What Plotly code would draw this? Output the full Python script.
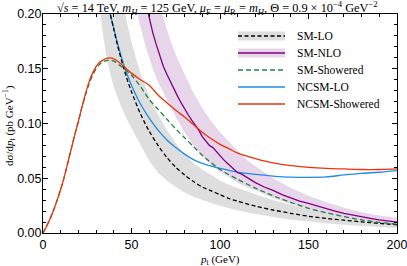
import plotly.graph_objects as go

# ---------------- data ----------------
# SM-LO central curve
sm_lo_x = [34, 36, 38, 40, 42, 45, 48, 50, 55, 60, 65, 70, 75, 80, 85, 90, 95, 100, 105, 110,
           120, 130, 140, 150, 160, 170, 180, 190, 200]
sm_lo_y = [0.240, 0.219, 0.200, 0.186, 0.172, 0.154, 0.138, 0.129, 0.109, 0.093, 0.080, 0.069,
           0.060, 0.053, 0.047, 0.042, 0.0385, 0.035, 0.0315, 0.029, 0.0245, 0.021, 0.018,
           0.0153, 0.0133, 0.0117, 0.0102, 0.0088, 0.0075]
# SM-LO scale band
sm_lo_band_x = [28, 30, 32, 34, 36, 38, 40, 44, 47, 50, 55, 60, 65, 70, 75, 80, 85, 90, 95, 100,
                105, 110, 117, 120, 130, 140, 150, 160, 170, 180, 190, 200]
sm_lo_band_lo = [0.29, 0.25, 0.205, 0.18, 0.160, 0.146, 0.133, 0.116, 0.105, 0.096, 0.081, 0.066,
                 0.055, 0.048, 0.042, 0.037, 0.033, 0.030, 0.0275, 0.025, 0.0228, 0.0205, 0.0182,
                 0.0172, 0.0145, 0.0122, 0.0103, 0.0088, 0.0075, 0.0064, 0.0054, 0.0045]
sm_lo_band_hi = [0.40, 0.37, 0.34, 0.31, 0.29, 0.27, 0.25, 0.218, 0.196, 0.174, 0.146, 0.125,
                 0.108, 0.094, 0.082, 0.072, 0.064, 0.058, 0.053, 0.048, 0.044, 0.041, 0.037,
                 0.0355, 0.030, 0.026, 0.022, 0.019, 0.0165, 0.0143, 0.0122, 0.0104]

# SM-NLO central curve
sm_nlo_x = [56, 58, 60, 62, 64, 66, 68, 70, 72, 74, 76, 78, 80, 82, 84, 86, 88, 90, 92, 94, 96,
            98, 100, 102, 104, 106, 108, 110, 112, 114, 116, 118, 120, 125, 130, 135, 140, 145,
            150, 155, 160, 165, 170, 175, 180, 185, 190, 195, 200]
sm_nlo_y = [0.225, 0.210, 0.197, 0.183, 0.172, 0.161, 0.152, 0.145, 0.138, 0.131, 0.125, 0.119,
            0.113, 0.108, 0.103, 0.099, 0.094, 0.088, 0.084, 0.080, 0.078, 0.074, 0.070, 0.067,
            0.064, 0.061, 0.058, 0.055, 0.054, 0.052, 0.050, 0.048, 0.046, 0.042, 0.039, 0.035,
            0.032, 0.0292, 0.027, 0.0245, 0.0222, 0.020, 0.018, 0.0163, 0.0148, 0.0133, 0.012,
            0.011, 0.0099]
# SM-NLO scale band
sm_nlo_band_x = [50, 52, 54, 56, 58, 60, 62, 65, 68, 70, 72, 75, 80, 85, 90, 95, 100, 105, 110,
                 115, 120, 130, 140, 150, 160, 170, 180, 190, 200]
sm_nlo_band_lo = [0.235, 0.212, 0.195, 0.182, 0.170, 0.160, 0.150, 0.138, 0.128, 0.122, 0.116,
                  0.106, 0.092, 0.080, 0.070, 0.062, 0.056, 0.051, 0.046, 0.042, 0.039, 0.032,
                  0.0265, 0.022, 0.0175, 0.014, 0.011, 0.009, 0.0074]
sm_nlo_band_hi = [0.31, 0.30, 0.285, 0.272, 0.26, 0.24, 0.229, 0.213, 0.196, 0.186, 0.176, 0.163,
                  0.145, 0.128, 0.114, 0.102, 0.092, 0.083, 0.075, 0.067, 0.061, 0.050, 0.041,
                  0.034, 0.028, 0.023, 0.019, 0.016, 0.0138]

# SM-Showered
sm_sh_x = [0, 2, 4, 6, 8, 10, 12, 14, 16, 18, 20, 22, 24, 26, 28, 30, 32, 34, 36, 38, 40, 45, 50,
           55, 60, 65, 70, 75, 80, 85, 90, 100, 110, 120, 130, 140, 150, 160, 170, 180, 190, 200]
sm_sh_y = [0.0, 0.006, 0.013, 0.021, 0.030, 0.040, 0.051, 0.064, 0.077, 0.090, 0.102, 0.115,
           0.126, 0.136, 0.144, 0.150, 0.154, 0.1565, 0.1575, 0.1575, 0.157, 0.151, 0.144, 0.134,
           0.122, 0.113, 0.104, 0.095, 0.087, 0.079, 0.071, 0.058, 0.049, 0.041, 0.034, 0.028,
           0.0225, 0.0185, 0.015, 0.012, 0.0098, 0.008]

# NCSM-LO
nc_lo_x = [34, 36, 38, 40, 42, 45, 48, 50, 55, 60, 65, 70, 75, 80, 85, 90, 95, 100, 110, 120,
           130, 140, 150, 160, 170, 180, 190, 200]
nc_lo_y = [0.240, 0.219, 0.200, 0.187, 0.174, 0.157, 0.143, 0.135, 0.118, 0.105, 0.094, 0.085,
           0.078, 0.072, 0.067, 0.0635, 0.061, 0.059, 0.0555, 0.0535, 0.052, 0.051, 0.0508,
           0.0512, 0.053, 0.0545, 0.0555, 0.057]

# NCSM-Showered
nc_sh_x = [0, 2, 4, 6, 8, 10, 12, 14, 16, 18, 20, 22, 24, 26, 28, 30, 32, 34, 36, 38, 40, 42, 45,
           50, 55, 60, 65, 70, 75, 80, 85, 90, 95, 100, 105, 110, 120, 130, 140, 150, 160, 170,
           180, 190, 200]
nc_sh_y = [0.0, 0.006, 0.013, 0.021, 0.030, 0.040, 0.051, 0.064, 0.077, 0.090, 0.102, 0.115,
           0.127, 0.138, 0.146, 0.152, 0.156, 0.158, 0.1595, 0.160, 0.159, 0.157, 0.153, 0.146,
           0.140, 0.135, 0.126, 0.119, 0.112, 0.106, 0.099, 0.092, 0.086, 0.081, 0.077, 0.073,
           0.068, 0.064, 0.0615, 0.060, 0.059, 0.0585, 0.058, 0.058, 0.0585]

legend_labels = ["SM-LO", "SM-NLO", "SM-Showered", "NCSM-LO", "NCSM-Showered"]
x_ticks = [0, 50, 100, 150, 200]
y_ticks = [0.00, 0.05, 0.10, 0.15, 0.20]

# ---------------- style ----------------
GRAY_BAND = "rgb(222,222,222)"
PINK_BAND = "rgb(231,213,233)"
BLACK = "black"
PURPLE = "rgb(128,0,128)"
GREEN = "rgb(30,130,60)"
BLUE = "rgb(30,140,230)"
RED = "rgb(235,50,10)"
SERIF = "Liberation Serif, DejaVu Serif, serif"
SANS = "Liberation Sans, Arial, sans-serif"

fig = go.Figure()

# bands
fig.add_trace(go.Scatter(x=sm_lo_band_x, y=sm_lo_band_lo, mode="lines", line=dict(width=0),
                         showlegend=False, hoverinfo="skip"))
fig.add_trace(go.Scatter(x=sm_lo_band_x, y=sm_lo_band_hi, mode="lines", line=dict(width=0),
                         fill="tonexty", fillcolor=GRAY_BAND, showlegend=False, hoverinfo="skip"))
fig.add_trace(go.Scatter(x=sm_nlo_band_x, y=sm_nlo_band_lo, mode="lines", line=dict(width=0),
                         showlegend=False, hoverinfo="skip"))
fig.add_trace(go.Scatter(x=sm_nlo_band_x, y=sm_nlo_band_hi, mode="lines", line=dict(width=0),
                         fill="tonexty", fillcolor=PINK_BAND, showlegend=False, hoverinfo="skip"))

# curves
fig.add_trace(go.Scatter(x=nc_lo_x, y=nc_lo_y, mode="lines", name="NCSM-LO",
                         line=dict(color=BLUE, width=1.3, shape="spline", smoothing=0.8)))
fig.add_trace(go.Scatter(x=sm_lo_x, y=sm_lo_y, mode="lines", name="SM-LO",
                         line=dict(color=BLACK, width=1.3, dash="4px,2.5px", shape="spline", smoothing=0.8)))
fig.add_trace(go.Scatter(x=sm_nlo_x, y=sm_nlo_y, mode="lines", name="SM-NLO",
                         line=dict(color=PURPLE, width=1.3)))
fig.add_trace(go.Scatter(x=sm_sh_x, y=sm_sh_y, mode="lines", name="SM-Showered",
                         line=dict(color=GREEN, width=1.3, dash="5px,3px", shape="spline", smoothing=0.8)))
fig.add_trace(go.Scatter(x=nc_sh_x, y=nc_sh_y, mode="lines", name="NCSM-Showered",
                         line=dict(color=RED, width=1.3, shape="spline", smoothing=0.8)))

# ---------------- manual legend ----------------
L, R, T, B, W, H = 43, 10, 14, 33, 407, 266
pw, ph = W - L - R, H - T - B
def px2x(p):
    return (p - L) / pw
def py2y(p):
    return (H - B - p) / ph

leg_rows = [36, 53, 70, 87, 104]
leg_styles = [
    dict(color=BLACK, dash="4px,2.5px", band=GRAY_BAND),
    dict(color=PURPLE, dash="solid", band=PINK_BAND),
    dict(color=GREEN, dash="5px,3px", band=None),
    dict(color=BLUE, dash="solid", band=None),
    dict(color=RED, dash="solid", band=None),
]
x0, x1, xt = px2x(238), px2x(285), px2x(295)
shapes = []
annotations = []
for lab, row, st in zip(legend_labels, leg_rows, leg_styles):
    yy = py2y(row)
    if st["band"]:
        shapes.append(dict(type="rect", xref="paper", yref="paper", x0=x0, x1=x1,
                           y0=yy - 4.5 / ph, y1=yy + 4.5 / ph, fillcolor=st["band"],
                           line=dict(width=0), layer="above"))
    shapes.append(dict(type="line", xref="paper", yref="paper", x0=x0, x1=x1, y0=yy, y1=yy,
                       line=dict(color=st["color"], width=1.3, dash=st["dash"]), layer="above"))
    annotations.append(dict(xref="paper", yref="paper", x=xt, y=yy, text=lab, showarrow=False,
                            xanchor="left", yanchor="middle",
                            font=dict(family=SERIF, size=11.5, color="black")))

# title
annotations.append(dict(
    xref="paper", yref="paper", x=px2x(217), y=py2y(7.5), yanchor="middle", xanchor="center",
    showarrow=False,
    text="√<i>s</i> = 14 TeV, <i>m<sub>H</sub></i> = 125 GeV, <i>μ</i><sub>F</sub> = "
         "<i>μ</i><sub>R</sub> = <i>m<sub>H</sub></i>, Θ = 0.9 × 10<sup>−4</sup> GeV<sup>−2</sup>",
    font=dict(family=SERIF, size=12.3, color="black")))
# axis titles
annotations.append(dict(
    xref="paper", yref="paper", x=px2x(220), y=py2y(259.5), yanchor="middle", xanchor="center",
    showarrow=False, text="<i>p</i><sub>t</sub> (GeV)",
    font=dict(family=SERIF, size=11, color="black")))
annotations.append(dict(
    xref="paper", yref="paper", x=px2x(9), y=py2y(126), yanchor="middle", xanchor="center",
    showarrow=False, textangle=-90, text="dσ/d<i>p</i><sub>t</sub> (pb GeV<sup>−1</sup>)",
    font=dict(family=SERIF, size=11, color="black")))

axis_common = dict(showline=True, linecolor="black", linewidth=1, mirror="allticks",
                   ticks="inside", ticklen=5, tickcolor="black", tickwidth=1,
                   showgrid=False, zeroline=False, automargin=False,
                   ticklabeloverflow="allow",
                   tickfont=dict(family=SANS, size=12.5, color="black"))

fig.update_layout(
    width=W, height=H,
    margin=dict(l=L, r=R, t=T, b=B),
    paper_bgcolor="white", plot_bgcolor="white",
    showlegend=False,
    shapes=shapes, annotations=annotations,
    xaxis=dict(range=[0, 200], tickvals=x_ticks, ticktext=[str(v) for v in x_ticks],
               minor=dict(dtick=10, ticks="inside", ticklen=3, tickcolor="black"),
               ticklabelstandoff=0,
               **axis_common),
    yaxis=dict(range=[0, 0.2], tickvals=y_ticks, ticktext=["%.2f" % v for v in y_ticks],
               minor=dict(dtick=0.01, ticks="inside", ticklen=3, tickcolor="black"),
               ticklabelstandoff=-2,
               **axis_common),
)

fig.write_html("out.html", config={"displayModeBar": False},
               post_script="document.body.style.margin='0';document.body.style.overflow='hidden';")
